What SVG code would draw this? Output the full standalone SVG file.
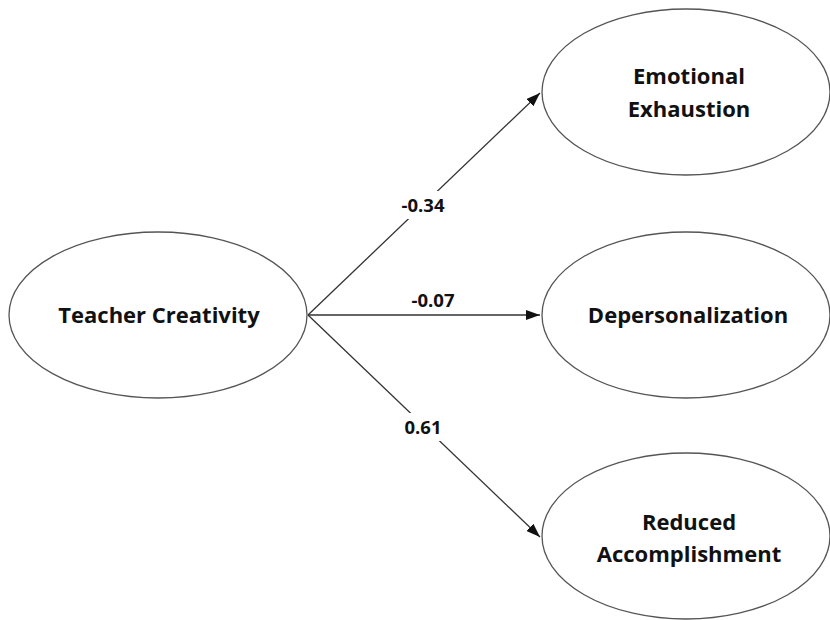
<svg xmlns="http://www.w3.org/2000/svg" width="830" height="620" viewBox="0 0 830 620">
<defs>
<marker id="arr" viewBox="0 0 14 10" refX="14" refY="5" markerWidth="14" markerHeight="10" markerUnits="userSpaceOnUse" orient="auto">
<path d="M0,0 L14,5 L0,10 Z" fill="#111"/>
</marker>
</defs>
<style>
.node ellipse{fill:#fff;stroke:#555;stroke-width:1.3}
.node text{font-family:"Open Sans","Liberation Sans",sans-serif;font-weight:bold;font-size:22px;fill:#111;text-anchor:middle}
.edge line{stroke:#333;stroke-width:1.3;marker-end:url(#arr)}
.lbl{font-family:"Open Sans","Liberation Sans",sans-serif;font-weight:bold;font-size:18.5px;fill:#111;text-anchor:middle}
</style>
<rect width="830" height="620" fill="#fff"/>
<g id="connectors" class="edge">
<line x1="308" y1="315" x2="540" y2="93"/>
<line x1="308" y1="315" x2="540" y2="315"/>
<line x1="308" y1="315" x2="540" y2="537"/>
<rect x="396" y="191" width="54" height="28" fill="#fff"/>
<rect x="396" y="413" width="54" height="28" fill="#fff"/>
<text class="lbl" x="423" y="212">-0.34</text>
<text class="lbl" x="433" y="307">-0.07</text>
<text class="lbl" x="423" y="434">0.61</text>
</g>
<g id="teacher-creativity" class="node">
<ellipse cx="158" cy="315" rx="149" ry="83"/>
<text x="159" y="323">Teacher Creativity</text>
</g>
<g id="emotional-exhaustion" class="node">
<ellipse cx="686" cy="92" rx="144" ry="83"/>
<text x="689" y="84">Emotional</text>
<text x="689" y="117">Exhaustion</text>
</g>
<g id="depersonalization" class="node">
<ellipse cx="686" cy="315" rx="144" ry="83"/>
<text x="688" y="323">Depersonalization</text>
</g>
<g id="reduced-accomplishment" class="node">
<ellipse cx="686" cy="536" rx="144" ry="83"/>
<text x="689" y="530">Reduced</text>
<text x="689" y="562">Accomplishment</text>
</g>
</svg>
